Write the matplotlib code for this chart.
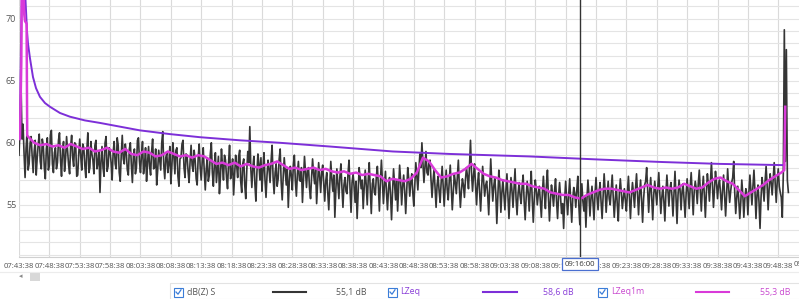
import numpy as np
import matplotlib.pyplot as plt
from matplotlib.patches import Rectangle
from matplotlib.lines import Line2D
from matplotlib.transforms import blended_transform_factory

plt.rcParams['font.family'] = ['Open Sans', 'DejaVu Sans']

W, H = 799, 299

# time axis: minutes after 07:43:38
tick_min = list(range(0, 130, 5))
tick_labels = ['07:43:38', '07:48:38', '07:53:38', '07:58:38', '08:03:38', '08:08:38',
               '08:13:38', '08:18:38', '08:23:38', '08:28:38', '08:33:38', '08:38:38',
               '08:43:38', '08:48:38', '08:53:38', '08:58:38', '09:03:38', '09:08:38',
               '09:13:38', '09:18:38', '09:23:38', '09:28:38', '09:33:38', '09:38:38',
               '09:43:38', '09:48:38']
cursor_min = 92.37
cursor_label = '09:16:00'

# dB(Z) S, one reading every 10 s
dbz_step = 1 / 6
dbz = [
    # 07:43 - 07:53
    59.0, 61.2, 64.8, 60.3, 61.5, 59.1, 57.2, 59.6, 60.9, 57.8, 58.3, 60.0, 60.5, 58.9, 57.6,
    59.3, 60.2, 57.4, 58.8, 59.9, 60.7, 58.5, 57.9, 60.3, 59.8, 58.0, 57.1, 59.5, 60.4, 57.8,
    58.2, 60.6, 61.0, 58.3, 57.6, 59.2, 59.6, 57.9, 58.4, 60.2, 60.8, 58.6, 57.3, 59.4, 60.1,
    57.7, 58.7, 60.5, 59.4, 58.2, 57.5, 59.7, 60.6, 58.8, 58.1, 60.0, 59.9, 57.3, 57.4, 59.1,
    # 07:53 - 08:03
    60.3, 58.9, 57.8, 59.9, 59.6, 58.2, 57.2, 59.4, 60.8, 57.6, 58.0, 60.1, 59.1, 58.6, 57.5,
    59.8, 60.2, 57.9, 58.4, 59.3, 56.0, 58.5, 59.7, 58.0, 57.3, 60.0, 60.5, 57.7, 58.1, 59.6,
    59.3, 58.4, 57.0, 59.2, 60.1, 58.3, 57.9, 60.4, 59.8, 57.6, 56.9, 59.0, 60.6, 58.7, 58.3,
    59.9, 59.2, 57.8, 57.4, 59.5, 60.0, 58.2, 56.8, 58.9, 59.5, 57.5, 58.0, 60.2, 60.4, 58.5,
    # 08:03 - 08:13
    57.6, 59.0, 60.1, 57.5, 58.2, 59.6, 56.9, 58.4, 59.7, 58.1, 57.4, 59.3, 60.3, 57.9, 58.0,
    59.5, 56.6, 57.8, 59.4, 58.6, 57.8, 60.0, 60.9, 58.2, 57.1, 58.8, 59.2, 57.6, 58.3, 59.7,
    56.7, 58.1, 60.0, 58.9, 57.5, 59.4, 59.6, 57.3, 56.5, 58.7, 58.8, 59.9, 60.2, 58.0, 57.2,
    59.1, 59.0, 57.7, 56.8, 58.5, 59.8, 58.2, 57.7, 59.4, 58.6, 57.1, 56.6, 58.8, 59.9, 58.0,
    # 08:13 - 08:23
    57.0, 58.5, 59.6, 57.7, 56.2, 57.9, 58.8, 56.9, 57.4, 59.1, 60.0, 57.6, 56.5, 58.3, 59.2,
    56.8, 57.8, 58.9, 55.9, 57.3, 59.5, 58.1, 57.0, 59.0, 58.6, 57.2, 56.3, 58.4, 59.8, 57.1,
    57.5, 58.7, 55.8, 57.4, 59.0, 58.2, 57.2, 58.9, 59.4, 56.9, 56.0, 58.3, 58.7, 56.6, 55.5,
    57.8, 59.3, 58.4, 61.3, 57.9, 56.4, 58.0, 58.9, 56.7, 55.3, 57.6, 59.1, 58.3, 57.0, 58.8,
    # 08:23 - 08:33
    56.1, 57.8, 59.2, 57.0, 55.6, 57.4, 58.6, 57.9, 56.8, 58.5, 59.8, 57.2, 55.9, 57.6, 58.3,
    56.5, 57.1, 58.7, 59.5, 56.8, 55.4, 57.3, 58.8, 57.7, 56.6, 57.9, 54.8, 56.9, 58.1, 57.4,
    56.2, 58.2, 59.0, 56.9, 55.7, 57.5, 58.5, 57.0, 56.9, 58.0, 55.2, 57.1, 58.9, 57.6, 56.4,
    57.8, 58.0, 56.3, 55.5, 57.2, 58.7, 57.5, 56.7, 57.9, 55.1, 56.8, 58.4, 57.3, 56.0, 57.6,
    # 08:33 - 08:43
    58.2, 56.8, 55.3, 56.9, 57.6, 56.0, 54.6, 56.5, 58.5, 57.1, 56.1, 57.4, 54.0, 56.2, 57.9,
    56.7, 55.5, 57.3, 58.3, 56.4, 54.8, 56.6, 57.2, 56.1, 55.9, 57.5, 58.6, 56.3, 54.4, 56.8,
    57.5, 56.5, 55.2, 56.9, 53.9, 56.0, 58.0, 57.2, 56.3, 57.0, 54.7, 56.4, 57.8, 56.6, 55.0,
    57.1, 58.4, 56.2, 54.3, 56.7, 57.1, 56.0, 55.8, 57.3, 58.1, 56.5, 54.5, 56.9, 58.6, 56.8,
    # 08:43 - 08:53
    55.1, 56.6, 57.7, 56.0, 54.6, 56.3, 57.2, 55.8, 53.8, 56.1, 57.9, 56.7, 55.4, 57.0, 54.5,
    56.4, 58.2, 56.9, 55.0, 56.5, 57.4, 56.1, 54.3, 56.2, 58.0, 57.1, 55.7, 56.8, 57.5, 56.0,
    54.9, 56.7, 58.4, 57.3, 56.2, 57.8, 59.1, 58.0, 60.0, 58.4, 56.8, 58.1, 59.3, 57.6, 57.4,
    58.5, 58.6, 57.0, 55.6, 56.9, 57.9, 56.3, 54.8, 56.6, 57.3, 56.1, 55.2, 56.8, 58.1, 56.5,
    # 08:53 - 09:03
    54.9, 56.5, 57.8, 56.2, 55.4, 56.9, 58.2, 56.3, 54.6, 56.0, 57.5, 56.8, 55.9, 57.2, 58.6,
    56.4, 54.8, 56.1, 57.1, 56.6, 55.6, 57.0, 58.0, 57.3, 56.3, 58.1, 60.2, 57.6, 56.1, 57.4,
    58.3, 56.5, 55.0, 56.7, 57.6, 56.0, 54.5, 56.3, 58.1, 56.9, 55.7, 56.6, 56.9, 55.8, 54.2,
    56.4, 58.7, 56.8, 55.3, 56.5, 57.2, 55.9, 53.5, 55.7, 57.8, 56.6, 54.4, 56.0, 57.0, 55.8,
    # 09:03 - 09:13
    54.6, 56.2, 57.5, 55.6, 53.9, 55.8, 57.2, 56.1, 54.8, 56.4, 57.9, 55.5, 54.2, 55.9, 56.8,
    55.7, 55.1, 56.5, 57.4, 55.3, 53.8, 55.6, 56.9, 56.0, 54.5, 56.3, 57.7, 55.4, 53.6, 55.5,
    57.0, 56.2, 55.0, 55.9, 56.5, 55.2, 54.0, 56.0, 57.3, 55.8, 54.7, 56.6, 57.8, 55.6, 53.7,
    55.4, 56.6, 55.9, 54.9, 56.1, 57.1, 55.3, 53.9, 55.7, 56.8, 55.5, 54.3, 55.1, 53.1, 55.4,
    # 09:13 - 09:23
    56.9, 55.4, 54.2, 55.8, 57.1, 55.2, 53.6, 55.5, 56.4, 55.9, 54.8, 56.2, 57.3, 55.0, 53.4,
    55.6, 56.7, 55.3, 54.5, 55.7, 53.2, 55.4, 57.0, 55.8, 54.1, 55.5, 56.5, 55.1, 53.8, 55.9,
    57.2, 55.6, 54.6, 56.0, 56.8, 55.2, 53.9, 55.7, 57.5, 56.1, 54.4, 55.8, 56.9, 55.5, 55.0,
    56.2, 57.4, 55.6, 54.0, 55.4, 56.6, 55.0, 53.7, 55.9, 57.1, 56.0, 54.7, 55.6, 56.3, 55.3,
    # 09:23 - 09:33
    54.5, 56.0, 57.3, 55.6, 53.9, 55.7, 56.8, 55.9, 54.8, 56.3, 57.5, 55.8, 54.2, 55.9, 57.0,
    55.4, 53.6, 55.5, 56.6, 56.9, 58.0, 56.2, 54.4, 56.1, 57.2, 55.6, 53.8, 55.8, 56.9, 56.0,
    55.0, 56.4, 57.6, 55.9, 54.3, 55.6, 56.5, 55.3, 53.7, 55.9, 57.4, 56.1, 54.9, 56.3, 56.8,
    55.7, 54.1, 56.0, 57.7, 55.5, 53.5, 55.8, 57.0, 56.2, 54.6, 56.1, 56.7, 55.4, 54.0, 55.9,
    # 09:33 - 09:43
    57.1, 56.0, 54.7, 56.4, 57.6, 55.9, 54.2, 56.1, 56.9, 56.3, 55.1, 56.7, 57.8, 56.1, 54.5,
    56.2, 57.3, 55.8, 54.0, 56.0, 57.5, 56.6, 55.3, 56.9, 58.4, 56.5, 54.8, 56.3, 57.7, 56.8,
    55.5, 56.6, 57.0, 55.9, 54.6, 56.2, 57.4, 55.7, 54.1, 55.8, 57.9, 56.4, 55.2, 56.1, 56.8,
    57.2, 58.5, 56.0, 54.3, 55.6, 56.5, 55.4, 53.9, 55.2, 57.0, 55.8, 54.0, 55.5, 56.3, 55.9,
    # 09:43 - end
    54.2, 56.0, 57.4, 56.2, 55.0, 56.5, 57.8, 56.1, 53.9, 55.8, 56.6, 55.2, 53.1, 55.6, 57.2,
    56.4, 55.3, 56.9, 58.1, 56.6, 54.6, 56.3, 57.5, 56.8, 55.8, 57.1, 58.4, 56.7, 55.2, 56.9,
    57.9, 56.5, 56.0, 55.6, 54.0, 57.5, 69.1, 58.5, 67.5, 57.0, 56.0,
]

# LZeq1m: start-up readings, then one per minute from 1.5 min, then the last jump
lzeq1m_head_t = [0.16, 0.38, 0.46, 0.71, 0.87, 0.99, 1.25, 1.35]
lzeq1m_head = [60.3, 66.5, 72.5, 72.5, 70.3, 69.8, 69.6, 60.6]
lzeq1m = [
    60.5, 60.0, 59.8, 59.9, 59.7, 59.8, 59.6, 59.9, 59.7, 59.5,
    59.6, 59.3, 59.4, 59.6, 59.3, 59.2, 59.5, 59.1, 59.0, 59.3,
    59.2, 58.9, 59.0, 59.3, 59.1, 58.9, 59.0, 58.8, 59.0, 58.9,
    58.6, 58.3, 58.4, 58.2, 58.4, 58.1, 58.3, 58.1, 58.0, 58.2,
    58.3, 58.5, 58.2, 57.9, 58.0, 57.8, 57.9, 58.0, 57.8, 57.9,
    57.7, 57.6, 57.7, 57.5, 57.6, 57.4, 57.5, 57.4, 57.3, 56.9,
    57.1, 57.0, 56.9, 57.1, 57.6, 58.8, 58.5, 57.8, 57.2, 57.3,
    57.5, 57.6, 57.9, 58.3, 57.9, 57.5, 57.3, 57.2, 57.0, 56.9,
    56.8, 56.7, 56.7, 56.5, 56.4, 56.3, 56.0, 55.9, 55.8, 55.8,
    55.6, 55.5, 55.8, 56.0, 56.2, 56.3, 56.3, 56.2, 56.1, 56.0,
    56.2, 56.4, 56.6, 56.4, 56.3, 56.4, 56.3, 56.4, 56.7, 56.5,
    56.3, 56.4, 56.8, 57.1, 57.2, 56.9, 56.7, 56.2, 55.7, 56.0,
    56.3, 56.6, 57.0, 57.3, 57.6,
]
lzeq1m_tail_t = [125.99, 126.15]
lzeq1m_tail = [57.8, 62.9]

# LZeq (running average since start)
lzeq_t = [0.16, 0.33, 0.49, 0.82, 1.07, 1.32, 1.48, 1.81, 2.30, 2.80, 3.45, 4.28, 5.10,
          6.74, 8.39, 10.86, 13.32, 16.61, 19.90, 24.83, 29.77, 36.35, 42.93, 51.15,
          61.51, 70.89, 84.04, 95.56, 105.92, 115.29, 125.99]
lzeq = [61.0, 68.0, 72.5, 73.0, 71.5, 69.0, 68.0, 66.8, 65.3, 64.4, 63.7, 63.2, 62.9,
        62.4, 62.1, 61.8, 61.6, 61.3, 61.0, 60.7, 60.45, 60.2, 60.0, 59.7,
        59.3, 59.1, 58.9, 58.65, 58.45, 58.3, 58.2]

legend_names = ['dB(Z) S', 'LZeq', 'LZeq1m']
legend_values = ['55,1 dB', '58,6 dB', '55,3 dB']
line_colors = ['#353535', '#7d2fd8', '#d93ad9']
text_colors = ['#555555', '#8a3fd8', '#c94ad0']


def fx(x):
    return x / W


def fy(y):
    return 1 - y / H


fig = plt.figure(figsize=(W / 100, H / 100), dpi=100)
ax = fig.add_axes([fx(19), fy(257), fx(799) - fx(19), fy(0) - fy(257)])

dbz_t = np.arange(len(dbz)) * dbz_step
m_t = np.concatenate([lzeq1m_head_t, 1.5 + np.arange(len(lzeq1m)), lzeq1m_tail_t])
m_v = np.concatenate([lzeq1m_head, lzeq1m, lzeq1m_tail])

ax.plot(dbz_t, dbz, color=line_colors[0], lw=1.2, zorder=3)
ax.plot(lzeq_t, lzeq, color=line_colors[1], lw=1.4, zorder=4)
ax.plot(m_t, m_v, color=line_colors[2], lw=1.8, zorder=5)

ax.set_xlim(0, (799 - 19) / 30.37 * 5)
ax.set_ylim(50.8, 71.5)
ax.set_xticks(tick_min)
ax.set_xticklabels(tick_labels)
ax.set_yticks([55, 60, 65, 70])
ax.set_yticks(np.arange(51, 72), minor=True)
ax.grid(axis='y', which='both', color='#e4e4e4', lw=0.8)
ax.grid(axis='x', which='major', color='#dadada', lw=0.8)
ax.set_axisbelow(True)
ax.tick_params(axis='x', length=0, pad=4, labelsize=5.6, labelcolor='#555555')
ax.tick_params(axis='y', which='both', length=0, pad=2, labelsize=6.5, labelcolor='#555555')
for s in ['top', 'right', 'left']:
    ax.spines[s].set_visible(False)
ax.spines['bottom'].set_color('#d0d0d0')
ax.spines['bottom'].set_linewidth(0.8)

# cut-off next label at the right edge
trans = blended_transform_factory(ax.transData, ax.transAxes)
ax.text(130, -0.03, '09:53:38', transform=trans, ha='center', va='center',
        fontsize=5.6, color='#555555', clip_on=False)

# cursor
ax.axvline(cursor_min, color='#333333', lw=1.0, zorder=6)
ax.text(cursor_min, -0.029, cursor_label, transform=trans, ha='center', va='center',
        fontsize=5.6, color='#333333', zorder=7, clip_on=False,
        bbox=dict(boxstyle='square,pad=0.32', fc='white', ec='#4a6fd0', lw=0.9))

# scrollbar stub
fig.text(fx(21), fy(277), '◂', fontsize=5, color='#888888', ha='center', va='center')
fig.add_artist(Rectangle((fx(30), fy(281)), fx(10), 8 / H, transform=fig.transFigure,
                         fc='#d8d8d8', ec='none'))

# legend panel
fig.add_artist(Line2D([0, 1], [fy(272), fy(272)], transform=fig.transFigure,
                      color='#ececec', lw=0.8))
fig.add_artist(Rectangle((fx(170), 0), fx(640), fy(283), transform=fig.transFigure,
                         fc='white', ec='#e3e3e3', lw=0.8))

box_x = [174, 388, 598]
name_x = [187, 400, 611]
line_x = [(273, 306), (483, 517), (696, 729)]
value_x = [336, 543, 760]
yc = 292
for i in range(3):
    bx = box_x[i]
    fig.add_artist(Rectangle((fx(bx), fy(yc + 4.5)), fx(9), 9 / H, transform=fig.transFigure,
                             fc='white', ec='#3b7dd8', lw=0.8))
    fig.add_artist(Line2D([fx(bx + 2), fx(bx + 4), fx(bx + 7)],
                          [fy(yc), fy(yc + 2.2), fy(yc - 2.2)],
                          transform=fig.transFigure, color='#3b7dd8', lw=0.9))
    fig.text(fx(name_x[i]), fy(yc), legend_names[i], fontsize=6.3, color=text_colors[i],
             ha='left', va='center')
    x0, x1 = line_x[i]
    fig.add_artist(Line2D([fx(x0), fx(x1)], [fy(yc), fy(yc)], transform=fig.transFigure,
                          color=line_colors[i], lw=1.5))
    fig.text(fx(value_x[i]), fy(yc), legend_values[i], fontsize=6.3, color=text_colors[i],
             ha='left', va='center')

fig.savefig('out.png', dpi=100)
